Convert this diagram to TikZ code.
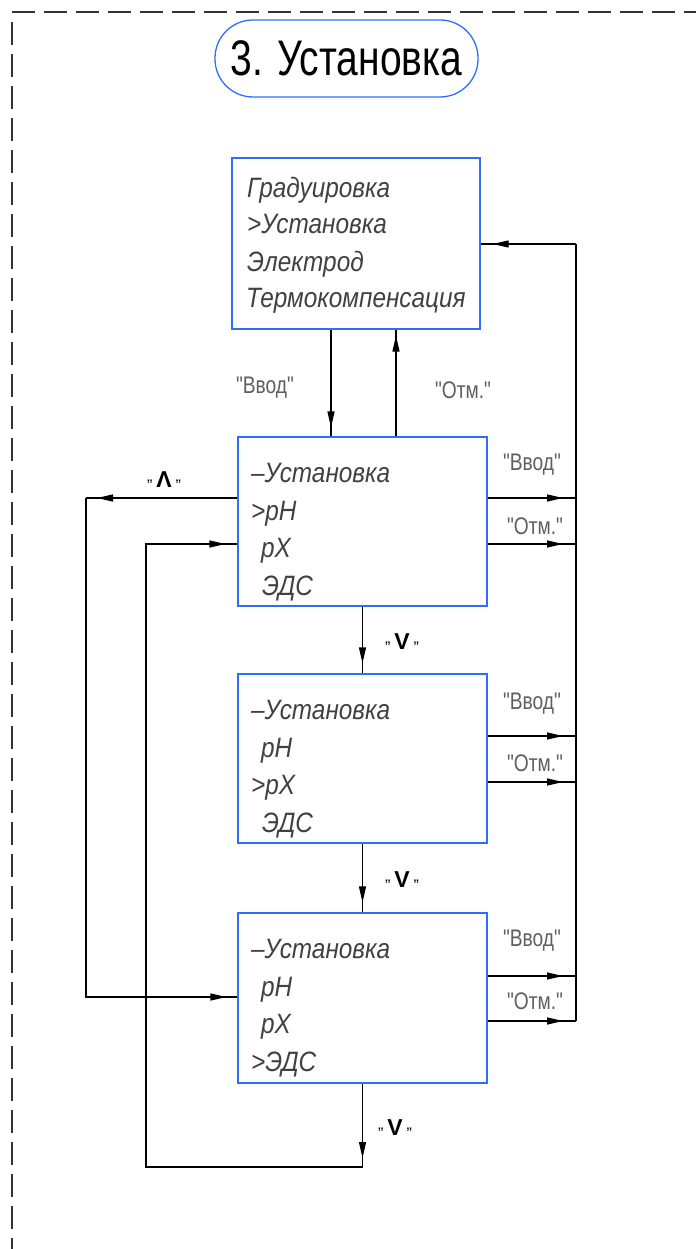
\documentclass[tikz,border=0pt]{standalone}
\usepackage{fontspec}
\setmainfont{Liberation Sans}
\newfontfamily\gostbox[FakeStretch=0.87]{Liberation Sans}
\newfontfamily\gosttitle[FakeStretch=0.78]{Liberation Sans}
\newfontfamily\gostlbl[FakeStretch=0.8]{Liberation Sans}
\usetikzlibrary{arrows.meta,calc}
\definecolor{boxblue}{RGB}{45,110,255}
\definecolor{txtgray}{RGB}{65,65,65}
\definecolor{lblgray}{RGB}{95,95,95}
\newcommand{\kq}{\raisebox{6pt}{\fontsize{16}{16}\selectfont „}}
\begin{document}
\begin{tikzpicture}[x=1pt,y=-1pt,
  blockbox/.style={draw=boxblue, line width=1.3pt, rectangle, inner sep=0pt, minimum width=249pt},
  titlebox/.style={draw=boxblue, line width=1.3pt, rounded corners=38pt, minimum width=263pt, minimum height=77pt, inner sep=0pt},
  boxtxt/.style={anchor=base west, inner sep=0pt, text=txtgray, font=\gostbox\itshape\fontsize{28}{28}\selectfont},
  lbl/.style={inner sep=0pt, text=lblgray, font=\gostlbl\fontsize{24}{24}\selectfont},
  keylbl/.style={inner sep=0pt, text=black, font=\fontsize{23}{23}\selectfont},
  conn/.style={draw=black, line width=1.3pt},
  arr/.style={postaction={draw, shorten >=#1, -{Triangle[length=16pt,width=7pt]}}},
  border/.style={draw=black!80, line width=1.3pt, dash pattern=on 23pt off 9pt}
]
\useasboundingbox (0,0) rectangle (696,1249);
% frame
\coordinate (fTL) at (12,12);
\coordinate (fTR) at (696,12);
\coordinate (fL1) at (12,22);
\coordinate (fL2) at (12,1249);
\draw[border] (fTL) -- (fTR);
\draw[border] (fL1) -- (fL2);

% title
\node[titlebox] (title) at (346.5,58.5) {\gosttitle\fontsize{50}{50}\selectfont 3. Установка};

% boxes
\node[blockbox, minimum width=248pt, minimum height=171pt] (b1) at (356,243.5) {};
\node[blockbox, minimum height=169pt] (b2) at (362.5,521.5) {};
\node[blockbox, minimum height=169pt] (b3) at (362.5,758.5) {};
\node[blockbox, minimum height=170pt] (b4) at (362.5,998) {};

% box texts
\node[boxtxt] (t11) at (247,198) {Градуировка};
\node[boxtxt] (t12) at (247,234) {>Установка};
\node[boxtxt] (t13) at (247,271) {Электрод};
\node[boxtxt] (t14) at (246,307) {Термокомпенсация};

\node[boxtxt] (t21) at (251,482) {–Установка};
\node[boxtxt] (t22) at (251,520) {>pH};
\node[boxtxt] (t23) at (261,557) {pX};
\node[boxtxt] (t24) at (262,595) {ЭДС};

\node[boxtxt] (t31) at (251,719) {–Установка};
\node[boxtxt] (t32) at (261,757) {pH};
\node[boxtxt] (t33) at (251,794) {>pX};
\node[boxtxt] (t34) at (262,832) {ЭДС};

\node[boxtxt] (t41) at (251,958) {–Установка};
\node[boxtxt] (t42) at (261,996) {pH};
\node[boxtxt] (t43) at (261,1033) {pX};
\node[boxtxt] (t44) at (251,1071) {>ЭДС};

% helper coordinates
\coordinate (xA) at (331,0);
\coordinate (xB) at (396,0);
\coordinate (busT) at (576,244);
\coordinate (busB) at (576,1021);
\coordinate (r2a) at (576,498);
\coordinate (r2b) at (576,544);
\coordinate (r3a) at (576,736);
\coordinate (r3b) at (576,782);
\coordinate (r4a) at (576,976);
\coordinate (r4b) at (576,1021);
\coordinate (L1) at (86,498);
\coordinate (L2) at (86,997);
\coordinate (M1) at (362.5,1167);
\coordinate (M2) at (146,1167);
\coordinate (M3) at (146,544);

% connectors
\draw[conn, arr=9pt] (b1.south -| xA) -- (b2.north -| xA);
\draw[conn, arr=6pt] (b2.north -| xB) -- (b1.south -| xB);
\draw[conn] (busT) -- (busB);
\draw[conn, arr=12pt] (busT) -- (b1.east |- busT);
\draw[conn, arr=13pt] (b2.east |- r2a) -- (r2a);
\draw[conn, arr=13pt] (b2.east |- r2b) -- (r2b);
\draw[conn, arr=13pt] (b3.east |- r3a) -- (r3a);
\draw[conn, arr=13pt] (b3.east |- r3b) -- (r3b);
\draw[conn, arr=13pt] (b4.east |- r4a) -- (r4a);
\draw[conn, arr=13pt] (b4.east |- r4b) -- (r4b);
\draw[conn, arr=10pt] (b2.south) -- (b3.north);
\draw[conn, arr=10pt] (b3.south) -- (b4.north);
\draw[conn, arr=11pt] (b2.west |- L1) -- (L1);
\draw[conn, arr=11pt] (L1) -- (L2) -- (b4.west |- L2);
\draw[conn, arr=9pt] (b4.south) -- (M1);
\draw[conn, arr=12pt] (M1) -- (M2) -- (M3) -- (b2.west |- M3);

% labels
\node[lbl] (la) at (265,388) {"Ввод"};
\node[lbl] (lb) at (463,390) {"Отм."};
\node[lbl] (l2a) at (532,465) {"Ввод"};
\node[lbl] (l2b) at (535,526) {"Отм."};
\node[lbl] (l3a) at (532,704) {"Ввод"};
\node[lbl] (l3b) at (535,763) {"Отм."};
\node[lbl] (l4a) at (532,941) {"Ввод"};
\node[lbl] (l4b) at (535,1001) {"Отм."};
\node[keylbl] (kup) at (164,480) {\kq\,\textbf{Λ}\,\kq};
\node[keylbl] (kd2) at (402,642) {\kq\,\textbf{V}\,\kq};
\node[keylbl] (kd3) at (402,880) {\kq\,\textbf{V}\,\kq};
\node[keylbl] (kd4) at (395,1128) {\kq\,\textbf{V}\,\kq};
\end{tikzpicture}
\end{document}
